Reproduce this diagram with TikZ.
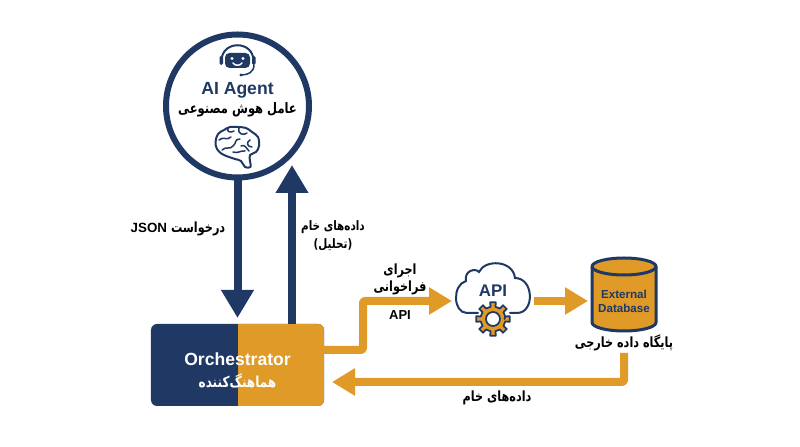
\documentclass[tikz,border=0pt]{standalone}
\usepackage{fontspec}
\setsansfont{Liberation Sans}
\newfontfamily\fafont[Script=Arabic,FakeStretch=0.8]{DejaVu Sans}
\TeXXeTstate=1
\usetikzlibrary{positioning, arrows.meta}
\definecolor{navy}{HTML}{1F3864}
\definecolor{amber}{HTML}{E09A28}
\begin{document}
\begin{tikzpicture}[font=\sffamily\bfseries, x=0.2mm, y=-0.2mm]
\tikzstyle{falabel}=[font=\fafont\bfseries\fontsize{8}{9.5}\selectfont, text=black, align=center, inner sep=0]
\tikzstyle{bigflow}=[navy, line width=0.16cm, -{Triangle[length=0.56cm, width=0.62cm]}]
\tikzstyle{smallflow}=[amber, line width=0.16cm, line join=round, rounded corners=0.04cm, -{Triangle[length=0.46cm, width=0.52cm]}]
\tikzstyle{icon}=[navy, line width=0.04cm, line cap=round, line join=round]
\useasboundingbox (0,0) rectangle (800,447);
\fill[white] (0,0) rectangle (800,447);

\node[circle, draw=navy, line width=0.12cm, minimum size=2.86cm, inner sep=0] (agent) at (237.5,106) {};
\node[text=navy, font=\sffamily\bfseries\fontsize{10}{12}\selectfont, inner sep=0] (agentname) at (237.5,90) {AI Agent};
\node[falabel, font=\fafont\bfseries\fontsize{8.2}{10}\selectfont] (agentfa) at (237.5,110) {\beginR عامل هوش مصنوعی\endR};

\draw[icon] (221.5,61) .. controls (221.5,40) and (253.5,40) .. (253.5,61);
\fill[navy, rounded corners=0.09cm] (225,53) rectangle (250,68);
\fill[navy, rounded corners=0.03cm] (219.5,56) rectangle (223,65);
\fill[navy, rounded corners=0.03cm] (252,56) rectangle (255.5,65);
\draw[icon, line width=0.03cm] (254,65) .. controls (254,72) and (248,75) .. (241.5,75);
\fill[navy] (241,75) circle (1.6);
\fill[white] (232,58.5) circle (1.6) (243,58.5) circle (1.6);
\draw[white, line width=0.03cm, line cap=round] (233,63) .. controls (235,66) and (240,66) .. (242,63);

\draw[icon, fill=white] plot[smooth cycle, tension=0.6] coordinates {(215.5,142) (218,134) (224,130) (230,127) (238,127) (246,128) (252,132) (258,137) (259,146) (256,152) (250,155) (250,161) (250.5,167) (245,167) (241,161) (235,159) (229,157) (222,154) (217,149)};
\draw[icon, line width=0.03cm] (219,140) .. controls (223,136) and (227,141) .. (231,137) (228,128) .. controls (226,132) and (231,133) .. (234,131) (239,128) .. controls (237,134) and (244,136) .. (247,133) (222,150) .. controls (226,146) and (230,150) .. (233,146) .. controls (237,143) and (234,139) .. (240,139) (233,152) .. controls (238,154) and (241,150) .. (245,151) (250,140) .. controls (246,142) and (247,147) .. (252,147) (241,146) .. controls (245,144) and (246,148) .. (249,151);

\node[rounded corners=0.12cm, minimum width=3.46cm, minimum height=1.64cm, inner sep=0, fill=navy, path picture={\fill[amber, sharp corners] (path picture bounding box.north) rectangle (path picture bounding box.south east);}] (orch) at (237.5,365) {};
\node[text=white, font=\sffamily\bfseries\fontsize{10}{12}\selectfont, inner sep=0] (orchname) at (237.5,359) {Orchestrator};
\node[falabel, text=white, font=\fafont\bfseries\fontsize{8.6}{10}\selectfont] (orchfa) at (237.5,381) {\beginR هماهنگ‌کننده\endR};

\coordinate (jsonin) at (237.5,318);
\coordinate (rawbottom) at (292,324);
\coordinate (rawtop) at (292,165);
\draw[bigflow] (agent.south) -- (jsonin);
\draw[bigflow] (rawbottom) -- (rawtop);
\node[falabel] (jsonlabel) at (178,229) {\beginR درخواست \beginL{\sffamily\fontsize{7.6}{9}\selectfont JSON}\endL\endR};
\node[falabel, font=\fafont\bfseries\fontsize{7.4}{9.5}\selectfont] (rawlabel) at (333,235.5) {\beginR داده‌های خام\endR\\[1pt]\beginR (تحلیل)\endR};

\coordinate (orchout) at (324,350);
\coordinate (bend) at (363,301);
\coordinate (apiin) at (452,301);
\draw[smallflow] (orchout) -| (bend) -- (apiin);
\node[falabel] (calllabel) at (400,279.5) {\beginR اجرای\endR\\\beginR فراخوانی\endR};
\node[text=black, font=\sffamily\bfseries\fontsize{7.4}{9}\selectfont, inner sep=0] (apilabel) at (400,315) {API};

\draw[navy, line width=0.04cm, line cap=round] (478,313) -- (467,313) .. controls (453,313) and (452,285) .. (466,281) .. controls (464,270) and (476,268) .. (479,272) .. controls (485,259) and (513,260) .. (515,278) .. controls (534,278) and (535,313) .. (517,313) -- (510,313);
\node[text=navy, font=\sffamily\bfseries\fontsize{9.6}{12}\selectfont, inner sep=0] (apiname) at (493,291) {API};
\draw[navy, fill=amber, line width=0.035cm, line join=round, shift={(493,319)}] (0:11.5) \foreach \a in {0,45,...,315} { -- (\a-12:12.5) -- (\a-9:17) -- (\a+9:17) -- (\a+12:12.5) -- (\a+33:12.5) } -- cycle;
\draw[navy, fill=white, line width=0.035cm] (493,319) circle (7);

\coordinate (apiout) at (534,301);
\coordinate (dbin) at (588,301);
\draw[smallflow] (apiout) -- (dbin);

\draw[navy, fill=amber, line width=0.06cm] (592,266.5) -- (592,322.5) arc[start angle=180, end angle=0, x radius=32, y radius=8.5] -- (656,266.5) arc[start angle=0, end angle=-180, x radius=32, y radius=8.5] -- cycle;
\draw[navy, line width=0.06cm] (592,266.5) arc[start angle=180, end angle=0, x radius=32, y radius=8.5];
\node[text=navy, font=\sffamily\bfseries\fontsize{6.6}{8}\selectfont, align=center, inner sep=0] (dbname) at (624,301.5) {External\\Database};
\node[falabel] (dbfa) at (624,343) {\beginR پایگاه داده خارجی\endR};

\coordinate (dbout) at (624,353);
\coordinate (orchin) at (332,382);
\draw[smallflow] (dbout) |- (orchin);
\node[falabel] (backlabel) at (497,398) {\beginR داده‌های خام\endR};
\end{tikzpicture}
\end{document}
